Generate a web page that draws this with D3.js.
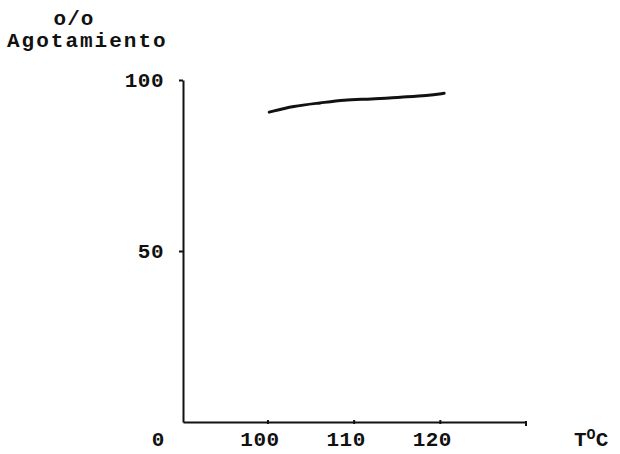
<!DOCTYPE html>
<html>
<head>
<meta charset="utf-8">
<script src="https://cdn.jsdelivr.net/npm/d3@7"></script>
<style>
  body { margin: 0; background: #fff; }
  text { font-family: "Liberation Mono", "DejaVu Sans Mono", monospace; font-weight: bold; fill: #111; }
</style>
</head>
<body>
<div id="chart"></div>
<script>
// temperatura (°C) y agotamiento (%)
const temps = [100.2, 103.0, 106.2, 108.8, 112.0, 115.5, 118.6, 120.5];
const agotamiento = [90.6, 92.4, 93.3, 94.2, 94.4, 95.0, 95.4, 96.1];
const xTicks = [100, 110, 120];
const yTicks = [50, 100];
const xDomain = [90.2, 130];
const yDomain = [0, 100];

const width = 620, height = 454;
const margin = { top: 80, left: 183 };
const w = 343, h = 342;

const svg = d3.select("#chart").append("svg")
  .attr("width", width).attr("height", height);

const g = svg.append("g").attr("transform", `translate(${margin.left},${margin.top})`);

const x = d3.scaleLinear().domain(xDomain).range([0, w]);
const y = d3.scaleLinear().domain(yDomain).range([h, 0]);

// eje X
const gx = g.append("g")
  .attr("transform", `translate(0,${h})`)
  .call(d3.axisBottom(x).tickValues(xTicks).tickSizeInner(3).tickSizeOuter(0).tickFormat(d3.format("d")));
gx.select(".domain").attr("stroke-width", 2).attr("stroke", "#111");
gx.selectAll(".tick line").attr("stroke-width", 2).attr("y1", -2).attr("y2", 2).attr("stroke", "#111");
gx.selectAll(".tick text")
  .attr("y", 24).attr("dy", 0).attr("dx", -8)
  .style("font-size", "21px").style("letter-spacing", "0.5px");
// marca final del eje X
gx.append("line")
  .attr("x1", x(xDomain[1])).attr("x2", x(xDomain[1]))
  .attr("y1", -1).attr("y2", 4)
  .attr("stroke", "#111").attr("stroke-width", 2);
// origen
gx.append("text")
  .attr("x", -25).attr("y", 24)
  .attr("text-anchor", "middle")
  .style("font-size", "21px")
  .text("0");

// eje Y
const gy = g.append("g")
  .call(d3.axisLeft(y).tickValues(yTicks).tickSizeInner(4).tickSizeOuter(0).tickPadding(15));
gy.select(".domain").attr("stroke-width", 2).attr("stroke", "#111");
gy.selectAll(".tick line").attr("stroke-width", 2).attr("stroke", "#111");
gy.selectAll(".tick text")
  .style("font-size", "21px").style("letter-spacing", "0.5px");

// curva
const line = d3.line()
  .x((d, i) => x(temps[i]))
  .y(d => y(d))
  .curve(d3.curveBasis);

g.append("path")
  .datum(agotamiento)
  .attr("fill", "none")
  .attr("stroke", "#111")
  .attr("stroke-width", 3)
  .attr("stroke-linecap", "round")
  .attr("d", line);

// titulo eje Y
svg.append("text")
  .attr("x", 74).attr("y", 25)
  .attr("text-anchor", "middle")
  .style("font-size", "21px").style("letter-spacing", "1px")
  .text("o/o");
svg.append("text")
  .attr("x", 7).attr("y", 47)
  .style("font-size", "21px").style("letter-spacing", "2px")
  .text("Agotamiento");

// titulo eje X
const tx = svg.append("text")
  .attr("x", 574).attr("y", 446)
  .style("font-size", "21px");
tx.append("tspan").text("T");
tx.append("tspan").attr("dy", -7).style("font-size", "15px").text("O");
tx.append("tspan").attr("dy", 7).text("C");
</script>
</body>
</html>
